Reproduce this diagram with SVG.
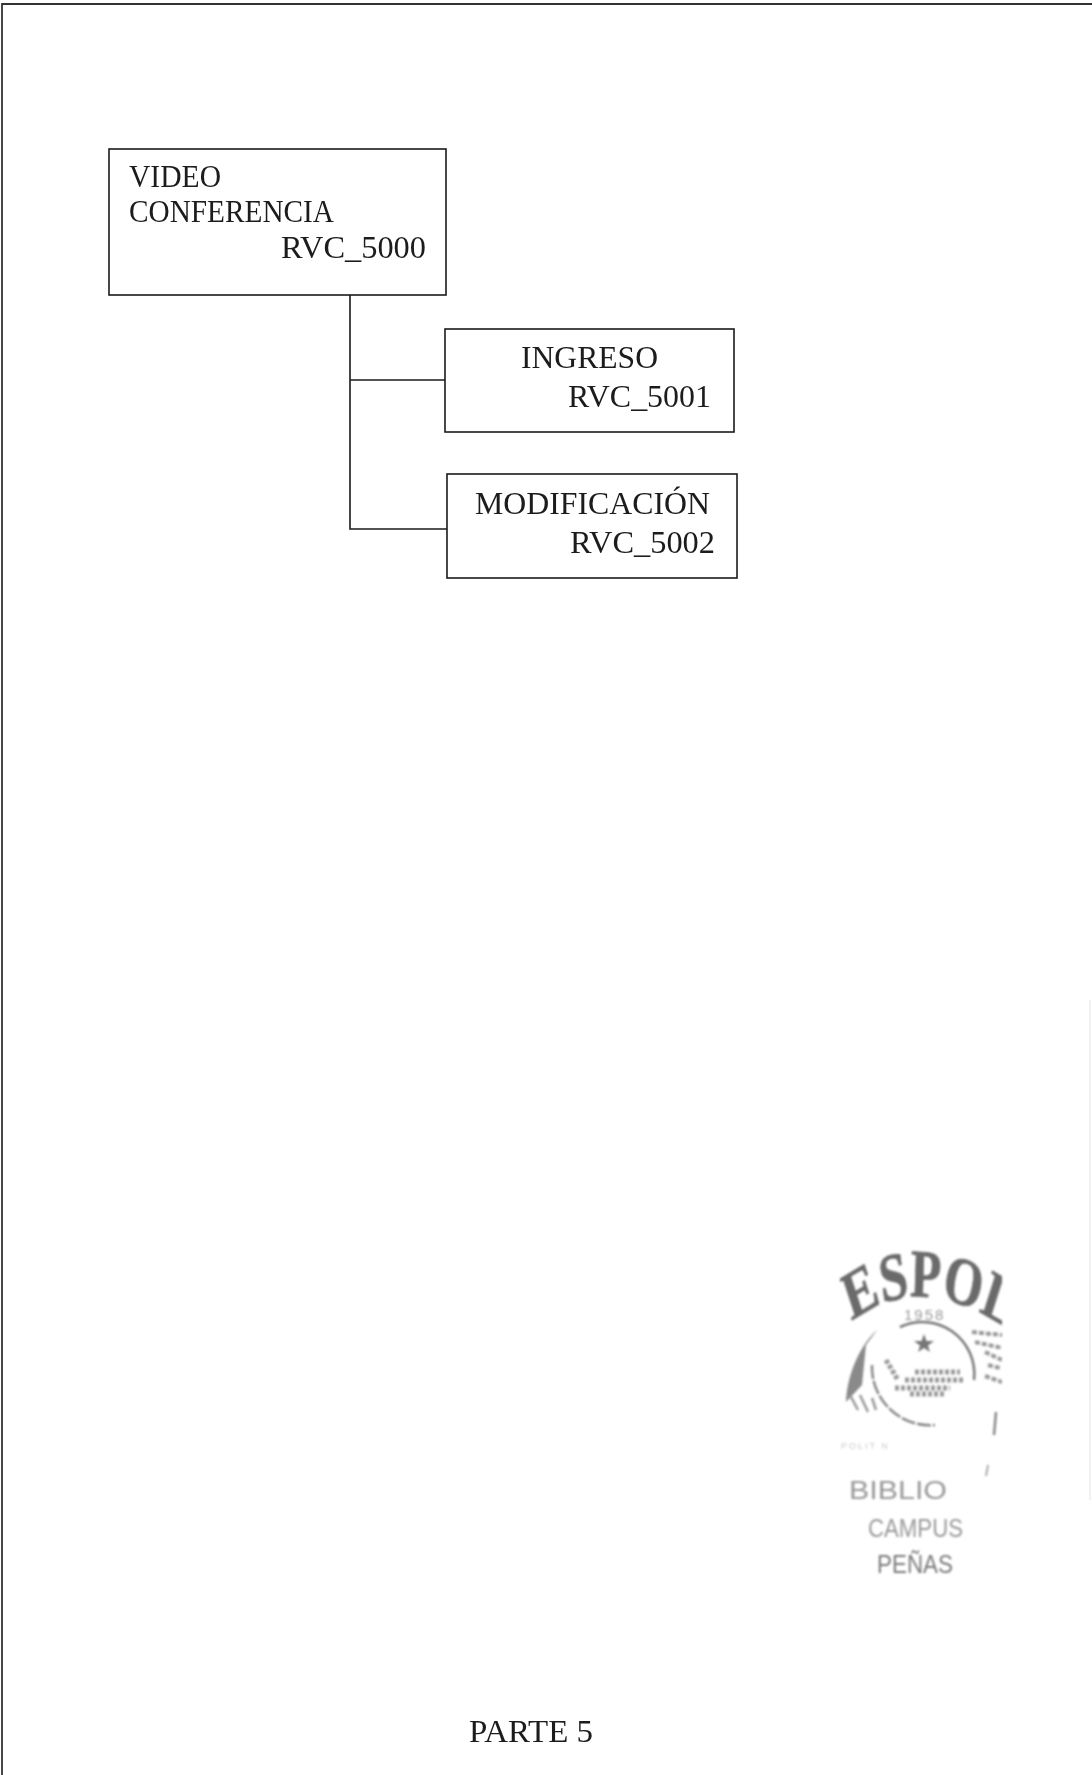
<svg xmlns="http://www.w3.org/2000/svg" width="1092" height="1775" viewBox="0 0 1092 1775">
<style>
.box{fill:#fff;stroke:#1c1c1c;stroke-width:1.6}
.conn{fill:none;stroke:#1c1c1c;stroke-width:1.6}
.t{font-family:"Liberation Serif","Times New Roman",serif;font-size:31px;fill:#1a1a1a}
.s{font-family:"Liberation Sans",Arial,sans-serif}
.c{fill:#999;font-size:25px}
</style>
<defs>
<filter id="soft" x="-5%" y="-5%" width="110%" height="110%"><feGaussianBlur stdDeviation="0.45"/></filter>
<filter id="softer" x="-5%" y="-5%" width="110%" height="110%"><feGaussianBlur stdDeviation="0.8"/></filter>
<path id="espolArc" d="M1151 1322Q1250 1262 1392 1345"/>
<clipPath id="stampClip"><rect x="840" y="1240" width="162" height="240"/></clipPath>
</defs>
<rect width="1092" height="1775" fill="#fff"/>
<g id="page-frame" filter="url(#soft)">
<path d="M2 1775V4H1092" fill="none" stroke="#333" stroke-width="1.8"/>
<path d="M1090 1000V1500" fill="none" stroke="#eee" stroke-width="1.5"/>
</g>
<g id="connectors" filter="url(#soft)">
<path class="conn" d="M350 295V529H447"/>
<path class="conn" d="M350 380H445"/>
</g>
<g id="node-rvc-5000" filter="url(#soft)">
<rect class="box" x="109" y="149" width="337" height="146"/>
<text class="t" x="129" y="187" textLength="92" lengthAdjust="spacingAndGlyphs">VIDEO</text>
<text class="t" x="129" y="222" textLength="205" lengthAdjust="spacingAndGlyphs">CONFERENCIA</text>
<text class="t" x="281" y="258" textLength="145" lengthAdjust="spacingAndGlyphs">RVC_5000</text>
</g>
<g id="node-rvc-5001" filter="url(#soft)">
<rect class="box" x="445" y="329" width="289" height="103"/>
<text class="t" x="521" y="368" textLength="137" lengthAdjust="spacingAndGlyphs">INGRESO</text>
<text class="t" x="568" y="407" textLength="143" lengthAdjust="spacingAndGlyphs">RVC_5001</text>
</g>
<g id="node-rvc-5002" filter="url(#soft)">
<rect class="box" x="447" y="474" width="290" height="104"/>
<text class="t" x="475" y="514" textLength="235" lengthAdjust="spacingAndGlyphs">MODIFICACIÓN</text>
<text class="t" x="570" y="553" textLength="145" lengthAdjust="spacingAndGlyphs">RVC_5002</text>
</g>
<g id="stamp" filter="url(#softer)">
<g clip-path="url(#stampClip)">
<text transform="scale(.74 1)" font-family="Liberation Serif,serif" font-size="68" font-weight="bold" fill="#6a6a6a" stroke="#6a6a6a" stroke-width=".8"><textPath href="#espolArc">ESPOL</textPath></text>
<path d="M877 1330C860 1345 847 1375 846 1402L862 1385L866 1345Z" fill="#8a8a8a"/>
<path d="M850 1395L858 1410M860 1395L868 1412M872 1398L876 1410" stroke="#999" stroke-width="2.500" fill="none"/>
<path d="M972 1332L1002 1335M975 1342L1002 1348M985 1352L1002 1360M988 1365L1000 1368M985 1376L1002 1382" stroke="#999" stroke-width="4" stroke-dasharray="5 2" fill="none"/>
<path d="M900 1327A52 52 0 0 1 974 1380" fill="none" stroke="#777" stroke-width="2.500"/>
<path d="M872 1365A58 58 0 0 0 935 1425" fill="none" stroke="#888" stroke-width="2.500" stroke-dasharray="14 2"/>
<path d="M886 1360L898 1380M915 1372L960 1372M905 1380L965 1380M895 1388L950 1388M910 1394L945 1394" stroke="#999" stroke-width="5" stroke-dasharray="4 2" fill="none"/>
</g>
<polygon points="924,1334 926.500,1341 934,1341 928,1345.500 930,1352 924,1348 918,1352 920,1345.500 914,1341 921.500,1341" fill="#777"/>
<text class="s" x="904" y="1320" font-size="15" letter-spacing="2" fill="#999">1958</text>
<path d="M996 1412L994 1435" fill="none" stroke="#888" stroke-width="2.500"/>
<path d="M988 1465L986 1476" fill="none" stroke="#aaa" stroke-width="2"/>
<text class="s" x="841" y="1449" font-size="9" fill="#ccc" letter-spacing="2">POLIT  N</text>
<text class="s c" x="849" y="1499" textLength="98" lengthAdjust="spacingAndGlyphs">BIBLIO</text>
<text class="s c" x="868" y="1537" textLength="95" lengthAdjust="spacingAndGlyphs">CAMPUS</text>
<text class="s c" x="877" y="1573" textLength="76" lengthAdjust="spacingAndGlyphs" style="fill:#7a7a7a">PEÑAS</text>
</g>
<g id="footer" filter="url(#soft)">
<text class="t" x="469" y="1742" textLength="124" lengthAdjust="spacingAndGlyphs">PARTE 5</text>
</g>
</svg>
